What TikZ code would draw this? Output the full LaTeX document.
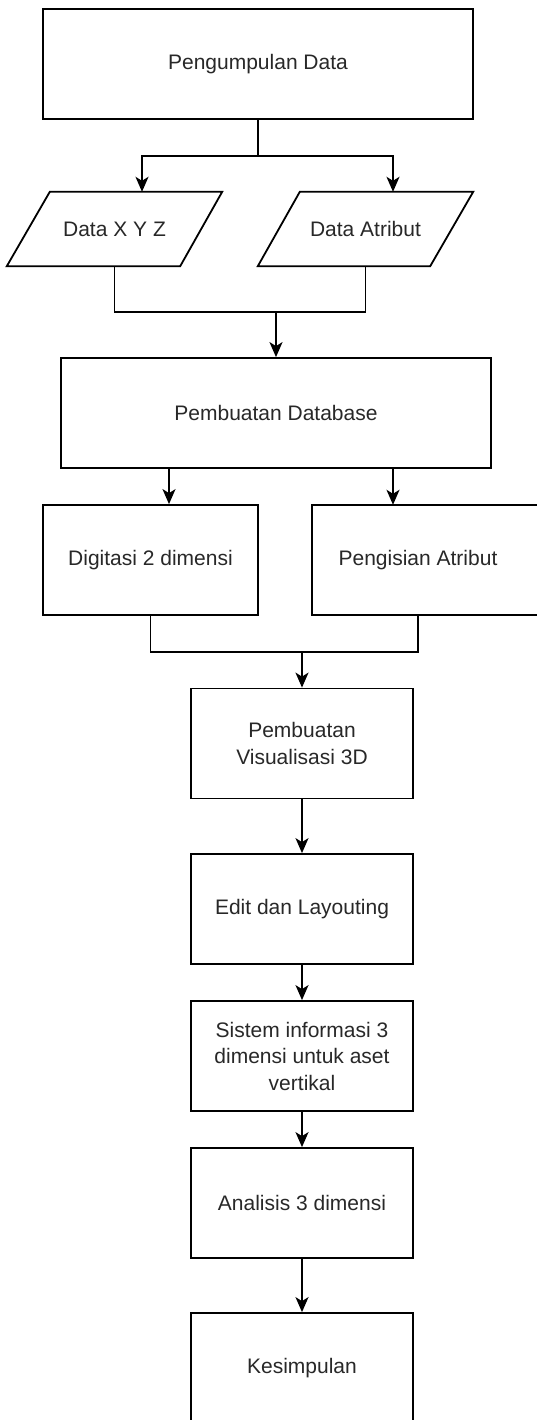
\documentclass[tikz,border=0pt]{standalone}
\usepackage{fontspec}
\setmainfont{Liberation Sans}
\usetikzlibrary{arrows.meta,calc}
\definecolor{txt}{RGB}{40,40,40}
\tikzset{
  box/.style={draw=black, line width=1.8pt, minimum width=#1, minimum height=110pt, inner sep=0pt, align=center, text=txt, font=\fontsize{21}{26.5}\selectfont},
  box/.default=222pt,
  plain/.style={draw=none, minimum width=#1, minimum height=110pt, inner sep=0pt, align=center, text=txt, font=\fontsize{21}{26.5}\selectfont},
  iobox/.style={draw=none, minimum width=215pt, minimum height=74pt, inner sep=0pt, text=txt, font=\fontsize{21}{26.5}\selectfont},
  line/.style={draw=black, line width=1.8pt},
  arr/.style={line, -{Stealth[length=15pt,width=13pt,inset=4pt]}}
}
\begin{document}
\begin{tikzpicture}[x=1pt,y=-1pt]
\useasboundingbox (0,0) rectangle (537,1420);
\clip (0,0) rectangle (537,1420);
\fill[white] (0,0) rectangle (537,1420);

\node[box=430pt] (pd) at (258,64) {Pengumpulan Data};

\node[iobox] (d1) at (114.5,229) {Data X Y Z};
\draw[line] ([xshift=43pt]d1.north west) -- (d1.north east) -- ([xshift=-42pt]d1.south east) -- (d1.south west) -- cycle;
\node[iobox] (d2) at (365.5,229) {Data Atribut};
\draw[line] ([xshift=42pt]d2.north west) -- (d2.north east) -- ([xshift=-43pt]d2.south east) -- (d2.south west) -- cycle;

\node[box=430pt] (db) at (276,413) {Pembuatan Database};

\node[box=215pt] (dg) at (150.5,560) {Digitasi 2 dimensi};
\node[plain=212pt] (pa) at (418,560) {Pengisian Atribut};
\draw[line] (pa.north west) -- ([xshift=40pt]pa.north east) -- ([xshift=40pt]pa.south east) -- (pa.south west) -- cycle;

\node[box] (vis) at (302,743.5) {Pembuatan\\Visualisasi 3D};
\node[box] (ed) at (302,909) {Edit dan Layouting};
\node[box] (si) at (302,1056) {Sistem informasi 3\\dimensi untuk aset\\vertikal};
\node[box] (an) at (302,1203) {Analisis 3 dimensi};
\node[box] (ks) at (302,1368) {Kesimpulan};

% connectors
\coordinate (j1) at ($(pd.south)+(0,36)$);
\draw[arr] (pd.south) -- (j1) -| ([xshift=27.5pt]d1.north);
\draw[arr] (j1) -| ([xshift=27.5pt]d2.north);

\coordinate (m1) at (276,312);
\draw[line] (d1.south) |- (m1) -| (d2.south);
\draw[arr] (m1) -- (db.north);

\draw[arr] ([xshift=-107pt]db.south) -- ([xshift=18.5pt]dg.north);
\draw[arr] ([xshift=117pt]db.south) -- ([xshift=-25pt]pa.north);

\coordinate (m2) at (302,652);
\draw[line] (dg.south) |- (m2) -| (pa.south);
\draw[arr] (m2) -- (vis.north);

\draw[arr] (vis.south) -- (ed.north);
\draw[arr] (ed.south) -- (si.north);
\draw[arr] (si.south) -- (an.north);
\draw[arr] (an.south) -- (ks.north);
\end{tikzpicture}
\end{document}
